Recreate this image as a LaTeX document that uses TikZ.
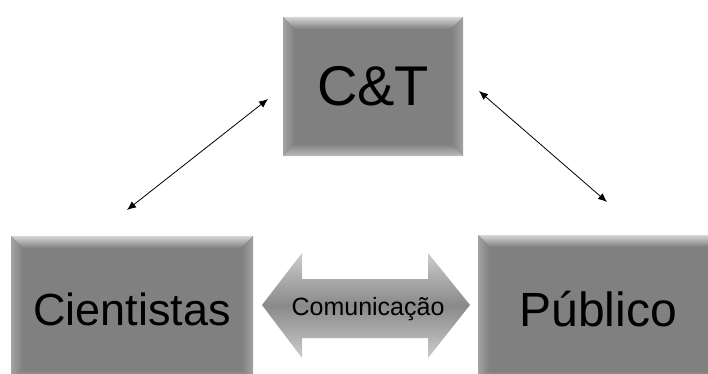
\documentclass[tikz,border=0pt]{standalone}
\usepackage{fontspec}
\setmainfont{Liberation Sans}
\usetikzlibrary{calc,arrows.meta}

\definecolor{facegray}{gray}{0.5}
\definecolor{bevtop}{gray}{0.84}
\definecolor{bevside}{gray}{0.64}
\definecolor{bevbot}{gray}{0.74}
\definecolor{arrowlight}{gray}{0.8}
\definecolor{arrowmid}{gray}{0.54}

\newcommand\bevw{12pt}

\tikzset{
  bevelbox/.style={fill=facegray, inner sep=0pt, path picture={
      \path (path picture bounding box.north west) coordinate (bnw)
            (path picture bounding box.north east) coordinate (bne)
            (path picture bounding box.south west) coordinate (bsw)
            (path picture bounding box.south east) coordinate (bse);
      \shade[top color=bevtop,bottom color=facegray] (bnw) -- (bne) -- ($(bne)+(-\bevw,-\bevw)$) -- ($(bnw)+(\bevw,-\bevw)$) -- cycle;
      \shade[left color=bevside,right color=facegray] (bnw) -- ($(bnw)+(\bevw,-\bevw)$) -- ($(bsw)+(\bevw,\bevw)$) -- (bsw) -- cycle;
      \shade[right color=bevside,left color=facegray] (bne) -- ($(bne)+(-\bevw,-\bevw)$) -- ($(bse)+(-\bevw,\bevw)$) -- (bse) -- cycle;
      \shade[bottom color=bevbot,top color=facegray] (bsw) -- ($(bsw)+(\bevw,\bevw)$) -- ($(bse)+(-\bevw,\bevw)$) -- (bse) -- cycle;
  }},
  link/.style={{Latex[length=9pt,width=7.5pt]}-{Latex[length=9pt,width=7.5pt]}, line width=0.8pt},
}

\begin{document}
\begin{tikzpicture}[x=1pt,y=-1pt]
    \path[use as bounding box, clip] (0,0) rectangle (708,374);

    \node[bevelbox, minimum width=180pt, minimum height=139pt, font=\fontsize{56}{60}\selectfont] (ct) at (373,86.5) {C\&T};
    \node[bevelbox, minimum width=242pt, minimum height=146pt, font=\fontsize{45}{50}\selectfont] (cien) at (132,309) {Cientistas};
    \node[bevelbox, minimum width=240pt, minimum height=148pt, font=\fontsize{48}{52}\selectfont] (pub) at (598,309) {Público};

    %\draw[red] (262,305) -- (470,305);
    \shade[top color=arrowlight, bottom color=arrowlight, middle color=arrowmid]
      (262,305) -- (302,253) -- (302,279) -- (428,279) -- (428,253) -- (470,305)
      -- (428,358) -- (428,338) -- (302,338) -- (302,358) -- cycle;
    \node[font=\fontsize{25}{28}\selectfont] (com) at (368,309) {Comunicação};

    \coordinate (cienend) at (127,210);
    \coordinate (ctleft) at (268,99);
    \coordinate (ctright) at (479,91);
    \coordinate (pubend) at (607,202);
    \draw[link] (cienend) -- (ctleft);
    \draw[link] (ctright) -- (pubend);
\end{tikzpicture}
\end{document}
